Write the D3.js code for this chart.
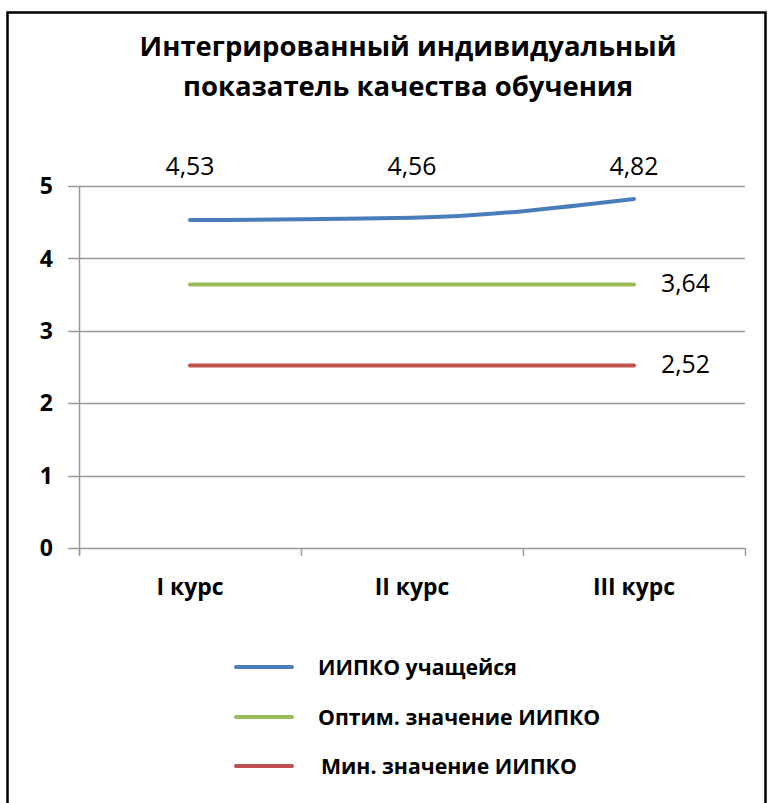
<!DOCTYPE html>
<html>
<head>
<meta charset="utf-8">
<script src="https://cdn.jsdelivr.net/npm/d3@7"></script>
<style>
  body { margin: 0; background: #fff; }
  svg { display: block; }
  text { font-family: "Open Sans", "Liberation Sans", sans-serif; fill: #000; }
</style>
</head>
<body>
<svg id="chart" width="770" height="803"></svg>
<script>
const title = ['Интегрированный индивидуальный', 'показатель качества обучения'];
const courses = ['I курс', 'II курс', 'III курс'];
const studentValues = [4.53, 4.56, 4.82];
const optimValues = [3.64, 3.64, 3.64];
const minValues = [2.52, 2.52, 2.52];
const seriesNames = ['ИИПКО учащейся', 'Оптим. значение ИИПКО', 'Мин. значение ИИПКО'];
const seriesColors = ['#4a7ebb', '#9bbb59', '#c0504d'];
const yTicks = [0, 1, 2, 3, 4, 5];

const svg = d3.select('#chart');

// outer frame (bottom edge is cut off in the reference)
svg.append('path')
  .attr('d', 'M7.5,803 V12.5 H765.5 V803')
  .attr('fill', 'none')
  .attr('stroke', '#000')
  .attr('stroke-width', 2.5);

// font size that makes a sample string take the given width
function fitSize(str, bold, width) {
  const t = svg.append('text')
    .attr('font-size', 20)
    .attr('font-weight', bold ? 'bold' : 'normal')
    .text(str);
  const w = t.node().getComputedTextLength();
  t.remove();
  return 20 * width / w;
}

const titleSize = fitSize(title[0], true, 537);
const dataSize = fitSize('4,53', false, 49);
const xSize = fitSize('I курс', true, 67);
const legendSize = fitSize(seriesNames[0], true, 199);
const ySize = 23;

title.forEach((t, i) => {
  svg.append('text')
    .attr('x', 408).attr('y', 56 + i * 40)
    .attr('text-anchor', 'middle')
    .attr('font-size', titleSize).attr('font-weight', 'bold')
    .text(t);
});

const x = d3.scaleBand().domain(courses).range([79, 745]);
const y = d3.scaleLinear().domain([0, 5]).range([548, 186]);

// gridlines
svg.append('g')
  .selectAll('line')
  .data(yTicks)
  .join('line')
  .attr('x1', 68).attr('x2', 745)
  .attr('y1', d => Math.round(y(d)) + 0.5).attr('y2', d => Math.round(y(d)) + 0.5)
  .attr('stroke', '#999').attr('stroke-width', 1.5);

// y axis line
svg.append('line')
  .attr('x1', 79.5).attr('x2', 79.5)
  .attr('y1', y(5)).attr('y2', y(0) + 7)
  .attr('stroke', '#999').attr('stroke-width', 1.5);

// x ticks at band edges
const edges = courses.map(c => x(c)).concat([x.range()[1]]);
svg.append('g')
  .selectAll('line')
  .data(edges)
  .join('line')
  .attr('x1', d => Math.round(d) + 0.5).attr('x2', d => Math.round(d) + 0.5)
  .attr('y1', y(0)).attr('y2', y(0) + 8)
  .attr('stroke', '#999').attr('stroke-width', 1.5);

// y tick labels
svg.append('g')
  .selectAll('text')
  .data(yTicks)
  .join('text')
  .attr('x', 53).attr('y', d => y(d))
  .attr('dy', '0.36em')
  .attr('text-anchor', 'end')
  .attr('font-size', ySize).attr('font-weight', 'bold')
  .text(d => d);

// x labels
svg.append('g')
  .selectAll('text')
  .data(courses)
  .join('text')
  .attr('x', d => x(d) + x.bandwidth() / 2).attr('y', 587)
  .attr('dy', '0.36em')
  .attr('text-anchor', 'middle')
  .attr('font-size', xSize).attr('font-weight', 'bold')
  .text(d => d);

const cx = d => x(d) + x.bandwidth() / 2;
const allSeries = [studentValues, optimValues, minValues];

allSeries.forEach((vals, i) => {
  const line = d3.line()
    .x((d, j) => cx(courses[j]))
    .y(d => y(d))
    .curve(i === 0 ? d3.curveMonotoneX : d3.curveLinear);
  svg.append('path')
    .datum(vals)
    .attr('d', line)
    .attr('fill', 'none')
    .attr('stroke', seriesColors[i])
    .attr('stroke-width', 4)
    .attr('stroke-linecap', 'round');
});

// data labels
const fmt = v => v.toFixed(2).replace('.', ',');
svg.append('g')
  .selectAll('text')
  .data(studentValues)
  .join('text')
  .attr('x', (d, j) => cx(courses[j])).attr('y', 166)
  .attr('dy', '0.36em')
  .attr('text-anchor', 'middle')
  .attr('font-size', dataSize)
  .text(d => fmt(d));

[optimValues, minValues].forEach(vals => {
  const last = vals[vals.length - 1];
  svg.append('text')
    .attr('x', cx(courses[courses.length - 1]) + 27).attr('y', y(last) - 1)
    .attr('dy', '0.36em')
    .attr('font-size', dataSize)
    .text(fmt(last));
});

// legend
const legendY = [667, 717, 766];
const legend = svg.append('g')
  .selectAll('g')
  .data(seriesNames)
  .join('g')
  .attr('transform', (d, i) => `translate(0,${legendY[i]})`);
legend.append('line')
  .attr('x1', 236).attr('x2', 292)
  .attr('stroke', (d, i) => seriesColors[i])
  .attr('stroke-width', 4)
  .attr('stroke-linecap', 'round');
legend.append('text')
  .attr('x', (d, i) => i === 2 ? 321 : 318)
  .attr('dy', '0.36em')
  .attr('font-size', legendSize).attr('font-weight', 'bold')
  .text(d => d);
</script>
</body>
</html>
